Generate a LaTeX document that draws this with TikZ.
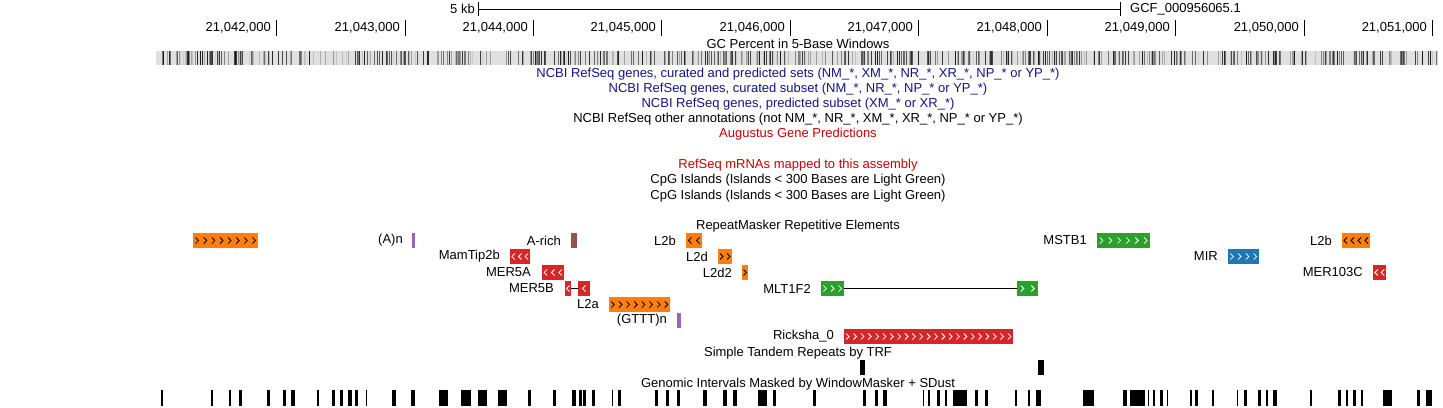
\documentclass[tikz,border=0pt]{standalone}
\usepackage{fontspec}
\setmainfont{Liberation Sans}
\definecolor{rmorange}{RGB}{255,127,14}
\definecolor{rmred}{RGB}{214,39,40}
\definecolor{rmgreen}{RGB}{44,160,44}
\definecolor{rmblue}{RGB}{31,119,180}
\definecolor{rmpurple}{RGB}{148,103,189}
\definecolor{rmbrown}{RGB}{140,86,75}
\definecolor{ncbiblue}{RGB}{20,20,130}
\definecolor{trackred}{RGB}{200,0,0}
\tikzset{
  txt/.style={font=\fontsize{13}{15}\selectfont, inner sep=0pt},
  lbl/.style={txt, anchor=east},
  title/.style={txt, anchor=center},
  rbox/.style={rectangle, draw=none, inner sep=0pt, anchor=north west},
  mask/.style={fill=black},
}
\newcommand\rmbox[8]{%
  \pgfmathsetmacro\rmw{#3-#2}%
  \node[rbox, fill=#5, minimum width=\rmw pt, minimum height=15pt] (#1) at (#2,#4) {};
  \pgfmathsetmacro\rmstep{(#3-#2)/#6}%
  \foreach \i in {1,...,#6}{%
    \pgfmathsetmacro\rmcx{#2+(\i-0.5)*\rmstep}%
    \draw[#8, line width=0.8pt] ({\rmcx-1.5*(#7)},#4+4.5) -- ({\rmcx+1.5*(#7)},#4+7.5) -- ({\rmcx-1.5*(#7)},#4+10.5);
  }%
}
\newcommand\plainbox[5]{%
  \pgfmathsetmacro\rmw{#3-#2}%
  \node[rbox, fill=#5, minimum width=\rmw pt, minimum height=15pt] (#1) at (#2,#4) {};
}
\begin{document}
\begin{tikzpicture}[x=1pt,y=-1pt]
\useasboundingbox (0,0) rectangle (1443,407);
% ruler
\node[lbl] (kb) at (475,9) {5 kb};
\coordinate (rl) at (478,9);
\coordinate (rr) at (1120,9);
\draw[line width=0.8pt] (rl) -- (rr);
\draw[line width=0.8pt] (478,2) -- (478,16);
\draw[line width=0.8pt] (1120,2) -- (1120,16);
\node[txt, anchor=west] (asm) at (1130,9) {GCF\_000956065.1};
% coordinate ticks
\foreach \t/\lab in {276/{21,042,000},405/{21,043,000},533/{21,044,000},661/{21,045,000},790/{21,046,000},918/{21,047,000},1047/{21,048,000},1175/{21,049,000},1304/{21,050,000},1432/{21,051,000}}{
  \draw[line width=0.8pt] (\t,20) -- (\t,36);
  \node[lbl] at (\t-5,28) {\lab};
}
% GC percent
\node[title] (gct) at (798,43.5) {GC Percent in 5-Base Windows};
\fill[black!12] (156,51) rectangle (1438,65);
\pgfmathsetseed{4242}
\foreach \x in {156,...,1437}{
  \pgfmathrandominteger{\r}{0}{99}
  \ifnum\r<34
    \pgfmathrandominteger{\g}{18}{90}
    \fill[black!\g] (\x,51) rectangle (\x+1,65);
  \fi
}
% track titles
\node[title, text=ncbiblue] (t1) at (798,74.5) {NCBI RefSeq genes, curated and predicted sets (NM\_*, XM\_*, NR\_*, XR\_*, NP\_* or YP\_*)};
\node[title, text=ncbiblue] (t2) at (798,89.5) {NCBI RefSeq genes, curated subset (NM\_*, NR\_*, NP\_* or YP\_*)};
\node[title, text=ncbiblue] (t3) at (798,104.5) {NCBI RefSeq genes, predicted subset (XM\_* or XR\_*)};
\node[title] (t4) at (798,119.5) {NCBI RefSeq other annotations (not NM\_*, NR\_*, XM\_*, XR\_*, NP\_* or YP\_*)};
\node[title, text=trackred] (t5) at (798,134.5) {Augustus Gene Predictions};
\node[title, text=trackred] (t6) at (798,165.5) {RefSeq mRNAs mapped to this assembly};
\node[title] (t7) at (798,180.5) {CpG Islands (Islands < 300 Bases are Light Green)};
\node[title] (t8) at (798,196) {CpG Islands (Islands < 300 Bases are Light Green)};
\node[title] (t9) at (798,226.5) {RepeatMasker Repetitive Elements};
% row 1 (top 233)
\rmbox{b1}{193}{258}{233}{rmorange}{8}{1}{black}
\node[lbl] (l2) at (403,240.5) {(A)n};
\plainbox{b2}{412}{415}{233}{rmpurple}
\node[lbl] (l3) at (561,240.5) {A-rich};
\plainbox{b3}{571}{577}{233}{rmbrown}
\node[lbl] (l4) at (676,240.5) {L2b};
\rmbox{b4}{686}{702}{233}{rmorange}{2}{-1}{black}
\node[lbl] (l5) at (1087,240.5) {MSTB1};
\rmbox{b5}{1097}{1150}{233}{rmgreen}{6}{1}{white}
\node[lbl] (l6) at (1332,240.5) {L2b};
\rmbox{b6}{1342}{1370}{233}{rmorange}{4}{-1}{black}
% row 2 (top 249)
\node[lbl] (l7) at (500,256.5) {MamTip2b};
\rmbox{b7}{510}{530}{249}{rmred}{3}{-1}{white}
\node[lbl] (l8) at (708,256.5) {L2d};
\rmbox{b8}{718}{732}{249}{rmorange}{2}{1}{black}
\node[lbl] (l9) at (1218,256.5) {MIR};
\rmbox{b9}{1228}{1259}{249}{rmblue}{4}{1}{white}
% row 3 (top 265)
\node[lbl] (l10) at (531,272.5) {MER5A};
\rmbox{b10}{542}{564}{265}{rmred}{3}{-1}{white}
\node[lbl] (l11) at (732,272.5) {L2d2};
\rmbox{b11}{742}{748}{265}{rmorange}{1}{1}{black}
\node[lbl] (l12) at (1363,272.5) {MER103C};
\rmbox{b12}{1373}{1386}{265}{rmred}{2}{-1}{white}
% row 4 (top 281)
\node[lbl] (l13) at (554,288.5) {MER5B};
\rmbox{b13a}{565}{571}{281}{rmred}{1}{-1}{white}
\rmbox{b13b}{578}{590}{281}{rmred}{1}{-1}{white}
\draw[line width=0.8pt] (b13a.east) -- (b13b.west);
\node[lbl] (l14) at (811,288.5) {MLT1F2};
\rmbox{b14a}{821}{844}{281}{rmgreen}{3}{1}{white}
\rmbox{b14b}{1017}{1038}{281}{rmgreen}{2}{1}{white}
\draw[line width=0.8pt] (b14a.east) -- (b14b.west);
% row 5 (top 297)
\node[lbl] (l15) at (599,304.5) {L2a};
\rmbox{b15}{609}{670}{297}{rmorange}{8}{1}{black}
% row 6 (top 313)
\node[lbl] (l16) at (667,320.5) {(GTTT)n};
\plainbox{b16}{677}{681}{313}{rmpurple}
% row 7 (top 329)
\node[lbl] (l17) at (834,336.5) {Ricksha\_0};
\rmbox{b17}{844}{1013}{329}{rmred}{23}{1}{white}
% TRF
\node[title] (t10) at (798,353.5) {Simple Tandem Repeats by TRF};
\fill (860,360) rectangle (865,375);
\fill (1038,360) rectangle (1044,375);
% WindowMasker
\node[title] (t11) at (798,384.5) {Genomic Intervals Masked by WindowMasker + SDust};
\foreach \a/\b in {161/163,211/213,229/231,239/242,267/270,283/286,291/295,317/319,332/335,340/343,348/352,355/358,366/367,392/396,411/415,439/448,461/471,478/487,498/507,528/531,553/556,572/576,579/582,583/586,592/595,612/613,618/621,655/658,666/669,677/680,703/707,723/727,733/737,758/767,773/776,813/816,863/866,875/878,883/887,923/924,928/930,937/940,945/947,953/967,975/978,985/988,1015/1017,1028/1030,1036/1041,1083/1094,1123/1127,1130/1145,1148/1149,1153/1155,1160/1163,1167/1168,1190/1192,1195/1198,1212/1214,1237/1238,1244/1247,1258/1261,1266/1268,1273/1277,1310/1312,1338/1341,1346/1348,1353/1356,1361/1363,1383/1392,1417/1420,1426/1432}{
  \fill[mask] (\a,390) rectangle (\b,406);
}
\end{tikzpicture}
\end{document}
